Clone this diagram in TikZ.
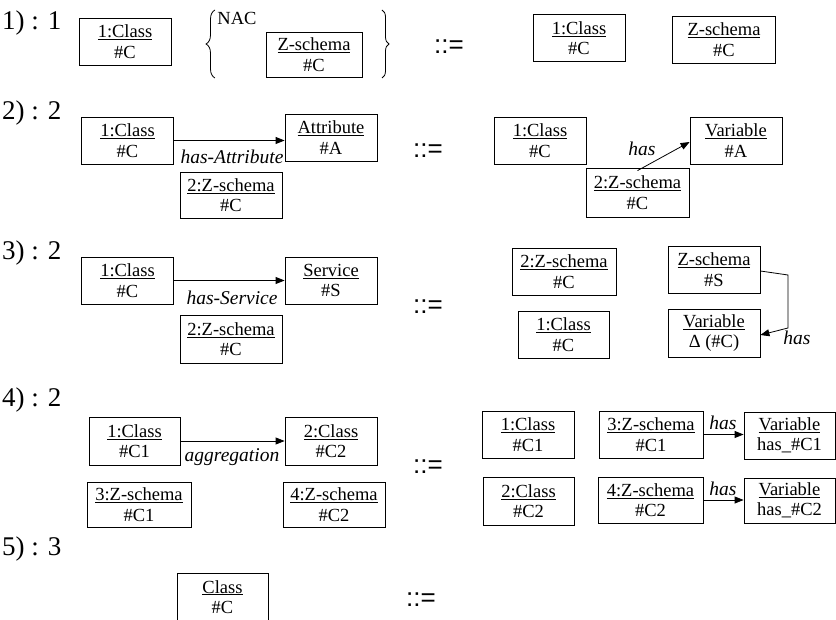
\documentclass[tikz,border=0pt]{standalone}
\usepackage{fontspec}
\setmainfont{Liberation Serif}
\newfontfamily\eqsans{Liberation Sans}
\usetikzlibrary{arrows.meta,decorations.pathreplacing}

\newcommand{\boxfont}{\fontsize{18.5}{20.5}\selectfont}
\newcommand{\labfont}{\fontsize{19.5}{21}\selectfont\itshape}
\newcommand{\rulefont}{\fontsize{27}{30}\selectfont}
\newcommand{\eqfont}{\eqsans\fontsize{26}{28}\selectfont}

\tikzset{
  obj/.style={rectangle,draw,line width=0.8pt,minimum width=92pt,minimum height=47pt,inner sep=1pt,align=center,font=\boxfont},
  zobj/.style={obj,minimum width=103pt},
  rel/.style={line width=0.8pt,-{Triangle[length=9pt,width=7pt]}},
  rulelbl/.style={font=\rulefont,anchor=base west,inner sep=0pt},
  defeq/.style={font=\eqfont,inner sep=0pt},
  lab/.style={font=\labfont,inner sep=0pt},
  nacbrace/.style={line width=0.8pt,decorate,decoration={brace,amplitude=#1}}
}

\begin{document}
\begin{tikzpicture}[x=1pt,y=-1pt]
\useasboundingbox (0,0) rectangle (836,620);

% Rule 1: class without schema
\node[rulelbl] (lbl1) at (2,30) {1) : 1};
\node[obj] (c1) at (125,41.5) {\underline{1:Class}\\\#C};
\node[inner sep=0pt,font=\boxfont] (nac) at (237,18.5) {NAC};
\node[obj,minimum width=96pt,minimum height=45pt] (z1) at (314,54.5) {\underline{Z-schema}\\\#C};
\coordinate (bl1) at (215,78);
\coordinate (bl2) at (215,10);
\coordinate (br1) at (382,10);
\coordinate (br2) at (382,78);
\draw[nacbrace=9pt] (bl1) -- (bl2);
\draw[nacbrace=7pt] (br1) -- (br2);
\node[defeq] (eq1) at (449,47) {::=};
\node[obj] (c2) at (579,38) {\underline{1:Class}\\\#C};
\node[zobj] (z2) at (724,39.5) {\underline{Z-schema}\\\#C};

% Rule 2: attribute becomes variable
\node[rulelbl] (lbl2) at (2,120) {2) : 2};
\node[obj] (a1) at (127.5,140.5) {\underline{1:Class}\\\#C};
\node[obj] (a2) at (331,137.5) {\underline{Attribute}\\\#A};
\node[zobj,minimum width=102pt,minimum height=46pt] (a3) at (231,195) {\underline{2:Z-schema}\\\#C};
\draw[rel] (a1.east) -- (a1.east -| a2.west);
\node[lab] (hasattr) at (232,157) {has-Attribute};
\node[defeq] (eq2) at (428,151) {::=};
\node[obj] (b1) at (540,140.5) {\underline{1:Class}\\\#C};
\node[obj] (b2) at (736,140.5) {\underline{Variable}\\\#A};
\node[zobj,minimum height=49pt] (b3) at (637.5,192.5) {\underline{2:Z-schema}\\\#C};
\draw[rel] ([yshift=-3pt]b3.north) -- ([yshift=-1.5pt]b2.west);
\node[lab] (has1) at (642,149) {has};

% Rule 3: service becomes schema
\node[rulelbl] (lbl3) at (2,260) {3) : 2};
\node[obj] (s1) at (127.5,280.5) {\underline{1:Class}\\\#C};
\node[obj] (s2) at (331,280.5) {\underline{Service}\\\#S};
\node[zobj,minimum width=102pt,minimum height=48pt] (s3) at (231,339) {\underline{2:Z-schema}\\\#C};
\draw[rel] (s1.east) -- (s1.east -| s2.west);
\node[lab] (hasserv) at (232,298) {has-Service};
\node[defeq] (eq3) at (428,307) {::=};
\node[zobj,minimum width=104pt] (t1) at (564,271.5) {\underline{2:Z-schema}\\\#C};
\node[obj,minimum width=91pt] (t2) at (563.5,334.5) {\underline{1:Class}\\\#C};
\node[obj] (t3) at (714,269.5) {\underline{Z-schema}\\\#S};
\node[obj,minimum height=48pt] (t4) at (714,333) {\underline{Variable}\\Δ (\#C)};
\coordinate (bend1) at (788,275);
\coordinate (bend2) at (788,328);
\draw[rel] ([yshift=-1.5pt]t3.east) -- (bend1) -- (bend2) -- ([yshift=-2pt]t4.east);
\node[lab] (has2) at (797,338) {has};

% Rule 4: aggregation
\node[rulelbl] (lbl4) at (2,407) {4) : 2};
\node[obj,minimum width=91pt,minimum height=48pt] (g1) at (134.5,441) {\underline{1:Class}\\\#C1};
\node[obj,minimum height=48pt] (g2) at (331,441) {\underline{2:Class}\\\#C2};
\node[zobj,minimum width=104pt,minimum height=45pt] (g3) at (139,504.5) {\underline{3:Z-schema}\\\#C1};
\node[zobj,minimum width=102pt,minimum height=45pt] (g4) at (334,504.5) {\underline{4:Z-schema}\\\#C2};
\draw[rel] (g1.east) -- (g1.east -| g2.west);
\node[lab] (aggr) at (232,457) {aggregation};
\node[defeq] (eq4) at (428,467) {::=};
\node[obj] (h1) at (528,434.5) {\underline{1:Class}\\\#C1};
\node[zobj,minimum width=104pt] (h2) at (651,434.5) {\underline{3:Z-schema}\\\#C1};
\node[obj,minimum width=91pt] (h3) at (789.5,435.5) {\underline{Variable}\\has\_\#C1};
\node[obj,minimum width=91pt,minimum height=48pt] (h4) at (528.5,501) {\underline{2:Class}\\\#C2};
\node[zobj,minimum width=105pt,minimum height=46pt] (h5) at (650.5,500) {\underline{4:Z-schema}\\\#C2};
\node[obj,minimum width=91pt,minimum height=45pt] (h6) at (789.5,500.5) {\underline{Variable}\\has\_\#C2};
\draw[rel] (h2.east) -- (h2.east -| h3.west);
\draw[rel] (h5.east) -- (h5.east -| h6.west);
\node[lab] (has3) at (723,423) {has};
\node[lab] (has4) at (723,489) {has};

% Rule 5
\node[rulelbl] (lbl5) at (2,555) {5) : 3};
\node[obj,minimum width=91pt,minimum height=48pt] (k1) at (222.5,597) {\underline{Class}\\\#C};
\node[defeq] (eq5) at (421,600) {::=};
\end{tikzpicture}
\end{document}
